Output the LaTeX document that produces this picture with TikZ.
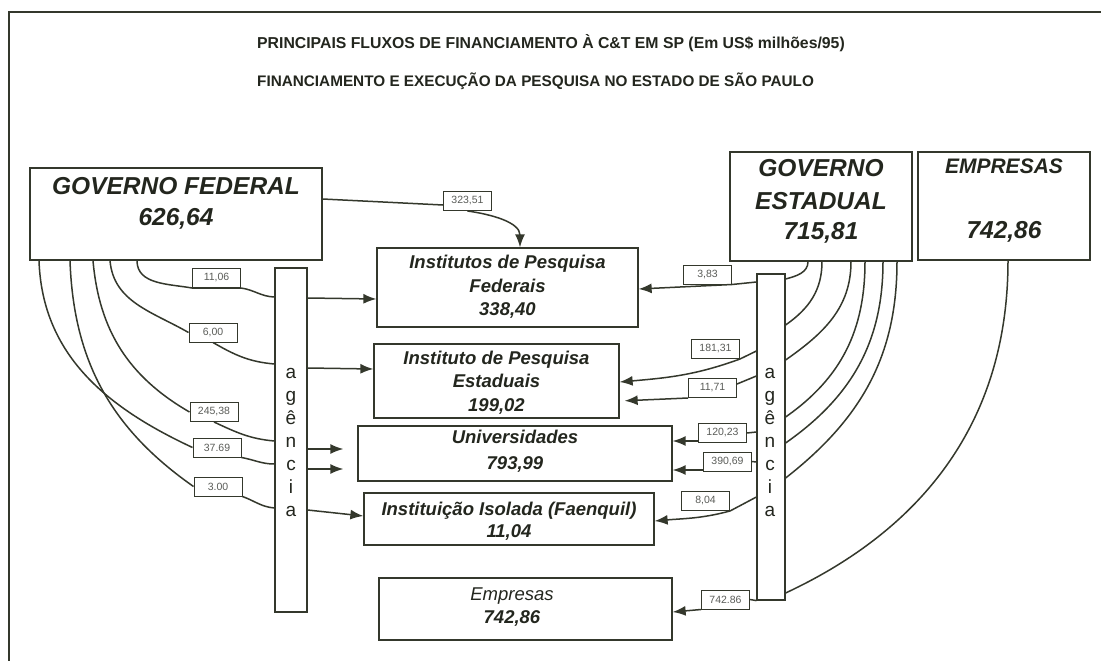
\documentclass[tikz,border=0pt]{standalone}
\usepackage{fontspec}
\setmainfont{Liberation Sans}
\usetikzlibrary{arrows.meta,calc}
\definecolor{lc}{RGB}{52,56,44}
\definecolor{tc}{RGB}{35,38,30}
\definecolor{labc}{RGB}{90,92,88}
\newcommand{\fsz}[1]{\fontsize{#1}{#1}\selectfont}
\begin{document}
\begin{tikzpicture}[x=1pt,y=-1pt,
  box/.style={draw=lc, line width=1.3pt, inner sep=0pt},
  agbox/.style={draw=lc, line width=1.2pt, inner sep=0pt},
  bt/.style={anchor=base, text=tc, inner sep=0pt, font=\fsz{18.5}\bfseries\itshape},
  big/.style={anchor=base, text=tc, inner sep=0pt, font=\fsz{24.5}\bfseries\itshape},
  agt/.style={anchor=base, text=tc, inner sep=0pt, font=\fsz{19}},
  lab/.style={draw=lc, line width=1pt, fill=white, minimum width=48pt, minimum height=19pt, inner sep=0pt, text=labc, font=\fsz{10.5}},
  tit/.style={anchor=base west, text=tc, inner sep=0pt},
  flow/.style={draw=lc, line width=1.5pt},
  arr/.style={flow, -{Latex[length=13pt,width=10pt]}}
]
\useasboundingbox (0,0) rectangle (1101,661);
\fill[white] (0,0) rectangle (1101,661);
\coordinate (fr1) at (1101,12);
\coordinate (fr2) at (9,12);
\coordinate (fr3) at (9,661);
\draw[lc, line width=1.2pt] (fr1) -- (fr2) -- (fr3);

% titles
\node[tit, font=\fsz{15.8}\bfseries] (t1) at (257,49) {PRINCIPAIS FLUXOS DE FINANCIAMENTO À C\&T EM SP (Em US\$ milhões/95)};
\node[tit, font=\fsz{15.3}\bfseries] (t2) at (257,87) {FINANCIAMENTO E EXECUÇÃO DA PESQUISA NO ESTADO DE SÃO PAULO};

% boxes
\node[box, minimum width=292pt, minimum height=92pt] (gf) at (176,214) {};
\node[big] (gft1) at (176,194) {GOVERNO FEDERAL};
\node[big] (gft2) at (176,225) {626,64};

\node[box, minimum width=182pt, minimum height=109pt] (ge) at (821,206.5) {};
\node[big] (get1) at (821,176) {GOVERNO};
\node[big] (get2) at (821,209) {ESTADUAL};
\node[big] (get3) at (821,239) {715,81};

\node[box, minimum width=172pt, minimum height=108pt] (emp) at (1004,206) {};
\node[anchor=base, text=tc, inner sep=0pt, font=\fsz{21}\bfseries\itshape] (empt1) at (1004,173.5) {EMPRESAS};
\node[big] (empt2) at (1004,238) {742,86};

\node[box, minimum width=261pt, minimum height=79pt] (ipf) at (507.5,287.5) {};
\node[bt] (ipft1) at (507.5,268) {Institutos de Pesquisa};
\node[bt] (ipft2) at (507.5,292) {Federais};
\node[bt] (ipft3) at (507.5,315) {338,40};

\node[box, minimum width=245pt, minimum height=74pt] (ipe) at (496.5,381) {};
\node[bt] (ipet1) at (496.5,364) {Instituto de Pesquisa};
\node[bt] (ipet2) at (496.5,387) {Estaduais};
\node[bt] (ipet3) at (496.5,411) {199,02};

\node[box, minimum width=314pt, minimum height=55pt] (univ) at (515,453.5) {};
\node[bt] (univt1) at (515,443) {Universidades};
\node[bt] (univt2) at (515,469) {793,99};

\node[box, minimum width=290pt, minimum height=52pt] (fae) at (509,519) {};
\node[bt] (faet1) at (509,515) {Instituição Isolada (Faenquil)};
\node[bt] (faet2) at (509,537) {11,04};

\node[box, minimum width=293pt, minimum height=62pt] (empb) at (525.5,609) {};
\node[bt, font=\fsz{18.5}\itshape] (empbt1) at (512,600) {Empresas};
\node[bt] (empbt2) at (512,623) {742,86};

% agencia boxes
\node[agbox, minimum width=32pt, minimum height=344pt] (agl) at (291,440) {};
\node[agbox, minimum width=28pt, minimum height=326pt] (agr) at (771,437) {};
\foreach \l [count=\i from 0] in {a,g,ê,n,c,i,a} {
  \node[agt] (agl-\i) at (291,378+23*\i) {\l};
  \node[agt] (agr-\i) at (770,378+23*\i) {\l};
}

% labels
\node[lab] (l323) at (467.5,201) {323,51};
\node[lab] (l1106) at (216.5,278) {11,06};
\node[lab] (l600) at (213,332.5) {6,00};
\node[lab] (l24538) at (214,412) {245,38};
\node[lab] (l3769) at (217,447.5) {37.69};
\node[lab] (l300) at (218,486.5) {3.00};
\node[lab] (l383) at (707.5,274.5) {3,83};
\node[lab] (l18131) at (715.5,349) {181,31};
\node[lab] (l1171) at (712.5,388) {11,71};
\node[lab] (l12023) at (722.5,433) {120,23};
\node[lab] (l39069) at (727.5,461.5) {390,69};
\node[lab] (l804) at (705.5,501) {8,04};
\node[lab] (l74286) at (725.5,599.5) {742.86};

% federal -> institutos federais direct
\draw[flow] (gf.east |- 0,199) -- (l323.west |- 0,205);
\draw[arr] (l323.south) to[out=-8,in=90] (ipf.north -| 520,0);

% federal -> agencia
\draw[flow] (137,0 |- gf.south) to[out=-90,in=170] (l1106.south west) -- (l1106.south east) to[out=-8,in=178] (agl.west |- 0,297);
\draw[flow] (110,0 |- gf.south) to[out=-85,in=150] (l600.west) (l600.south) to[out=-30,in=175] (agl.west |- 0,364);
\draw[flow] (93,0 |- gf.south) to[out=-85,in=150] (l24538.west) (l24538.south) to[out=-25,in=175] (agl.west |- 0,441);
\draw[flow] (39,0 |- gf.south) to[out=-88,in=155] (l3769.west) (l3769.south east) to[out=-10,in=180] (agl.west |- 0,464);
\draw[flow] (70,0 |- gf.south) to[out=-88,in=145] (l300.west) (l300.south east) to[out=-20,in=175] (agl.west |- 0,508);

% agencia (left) -> executors
\draw[arr] (agl.east |- 0,298) -- (ipf.west |- 0,299);
\draw[arr] (agl.east |- 0,368) -- (ipe.west |- 0,369);
\draw[arr, shorten >=14pt] (agl.east |- 0,449) -- (univ.west |- 0,449);
\draw[arr, shorten >=14pt] (agl.east |- 0,469) -- (univ.west |- 0,469);
\draw[arr] (agl.east |- 0,510) -- (fae.west |- 0,516);

% estadual -> agencia (right)
\draw[flow] (808,0 |- ge.south) to[out=-90,in=15] (agr.east |- 0,279);
\draw[flow] (822,0 |- ge.south) to[out=-90,in=35] (agr.east |- 0,325);
\draw[flow] (851,0 |- ge.south) to[out=-90,in=35] (agr.east |- 0,360);
\draw[flow] (865,0 |- ge.south) to[out=-90,in=35] (agr.east |- 0,417);
\draw[flow] (883,0 |- ge.south) to[out=-90,in=35] (agr.east |- 0,443);
\draw[flow] (897,0 |- ge.south) to[out=-90,in=38] (agr.east |- 0,478);
\draw[flow] (emp.south -| 1008,0) to[out=-90,in=25] (agr.east |- 0,593);

% agencia (right) -> executors
\draw[arr] (agr.west |- 0,282) -- (l383.south east) -- (ipf.east |- 0,289);
\draw[arr] (agr.west |- 0,351) -- (l18131.south east) to[out=200,in=5] (ipe.east |- 0,382);
\draw[flow] (agr.west |- 0,376) -- (l1171.east |- 0,384);
\draw[arr, shorten >=5pt] (l1171.south west) -- (ipe.east |- 0,401);
\draw[flow] (agr.west |- 0,432) -- (l12023.east);
\draw[arr] (l12023.west |- 0,441) -- (univ.east |- 0,441);
\draw[flow] (agr.west |- 0,462) -- (l39069.east);
\draw[arr] (l39069.west |- 0,470) -- (univ.east |- 0,470);
\draw[arr] (agr.west |- 0,497) -- (l804.south east) to[out=195,in=5] (fae.east |- 0,521);
\draw[flow] (agr.south west) -- (l74286.east);
\draw[arr] (l74286.south west) -- (empb.east |- 0,612);
\end{tikzpicture}
\end{document}
